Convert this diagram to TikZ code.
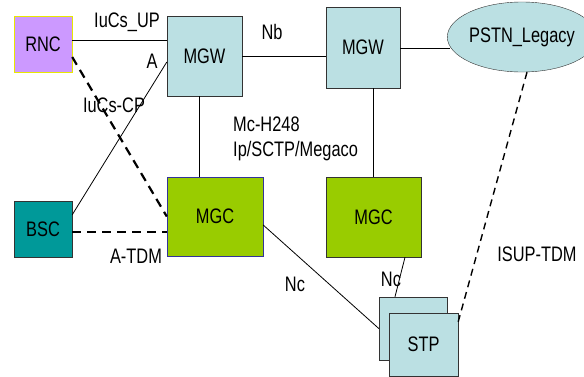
\documentclass[tikz,border=0pt]{standalone}
\usepackage{fontspec}
\setmainfont{Liberation Sans}[FakeStretch=0.78]
\usepackage{xcolor}
\usetikzlibrary{arrows.meta, positioning, calc, shapes.geometric}
\definecolor{rncfill}{HTML}{CC99FF}
\definecolor{rncline}{HTML}{E8E800}
\definecolor{gwfill}{HTML}{BBE0E3}
\definecolor{mgcfill}{HTML}{99CC00}
\definecolor{mgcline}{HTML}{333399}
\definecolor{bscfill}{HTML}{009999}

\begin{document}
\begin{tikzpicture}[x=1pt, y=-1pt,
    every node/.style={font=\fontsize{21}{25}\selectfont, inner sep=0pt},
    box/.style={draw=black!80, rectangle, fill=gwfill},
    link/.style={draw=black, line width=0.8pt},
    tdm/.style={draw=black, line width=2.2pt, dash pattern=on 9pt off 6pt},
    isup/.style={draw=black, line width=1.4pt, dash pattern=on 7pt off 5pt}]
    \useasboundingbox (0,0) rectangle (584,376);
    % network elements
    \node[box, fill=rncfill, draw=rncline, minimum width=58pt, minimum height=56pt] (rnc) at (43,44) {RNC};
    \node[box, minimum width=75pt, minimum height=80pt] (mgwa) at (204.5,56) {MGW};
    \node[box, minimum width=74pt, minimum height=81pt] (mgwb) at (363,47.5) {MGW};
    \node[draw=black!80, ellipse, fill=gwfill, minimum width=108pt, minimum height=70pt] (pstn) at (522,37) {PSTN\_Legacy};
    \node[box, fill=bscfill, minimum width=58pt, minimum height=56pt] (bsc) at (43,229) {BSC};
    \node[box, fill=mgcfill, draw=mgcline, minimum width=96pt, minimum height=79pt] (mgca) at (215,216.5) {MGC};
    \node[box, fill=mgcfill, draw=black!80, minimum width=95pt, minimum height=80pt] (mgcb) at (373.5,217) {MGC};
    \node[box, minimum width=68pt, minimum height=63pt] (stpb) at (413,328.5) {};
    \node[box, minimum width=69pt, minimum height=63pt] (stpa) at (423.5,344.5) {STP};
    \coordinate (mcx) at (199,0);

    % links
    \draw[link] ([yshift=4pt]rnc.east) -- ([yshift=4pt]rnc.east -| mgwa.west);
    \draw[link] (mgwa.east) -- (mgwa.east -| mgwb.west);
    \draw[link] ([yshift=-1pt]mgwb.east) -- ([yshift=-1pt,xshift=3pt]mgwb.east -| pstn.west);
    \draw[link] (mgwa.south -| mcx) -- (mgca.north -| mcx);
    \draw[link] (mgwb.south -| mgcb.north) -- (mgcb.north);
    \draw[link] ([yshift=-14pt]bsc.north east) -- ([yshift=-6pt]mgwa.west);
    \draw[link] ([yshift=-8.5pt]mgca.east) -- (stpb.west);
    \draw[link] ([xshift=31.5pt]mgcb.south) -- ([xshift=-18pt]stpb.north);
    \draw[tdm] ([yshift=-13pt]rnc.east) -- (mgca.west);
    \draw[tdm] ([yshift=-3pt]bsc.east) -- ([yshift=-3pt]bsc.east -| mgca.west);
    \draw[isup] ([xshift=5pt]pstn.south) -- ([yshift=-9pt]stpa.north east);

    % interface labels
    \node (iucsup) at (127,22) {IuCs\_UP};
    \node (nb) at (272,32) {Nb};
    \node (ainf) at (152,61) {A};
    \node (iucscp) at (114,105) {IuCs-CP};
    \node[anchor=west] (mch) at (233,124) {Mc-H248};
    \node[anchor=west] (mcp) at (233,151) {Ip/SCTP/Megaco};
    \node (atdm) at (136,256) {A-TDM};
    \node (nca) at (295,284) {Nc};
    \node (ncb) at (391,279) {Nc};
    \node (isuptdm) at (537,254) {ISUP-TDM};
\end{tikzpicture}
\end{document}
